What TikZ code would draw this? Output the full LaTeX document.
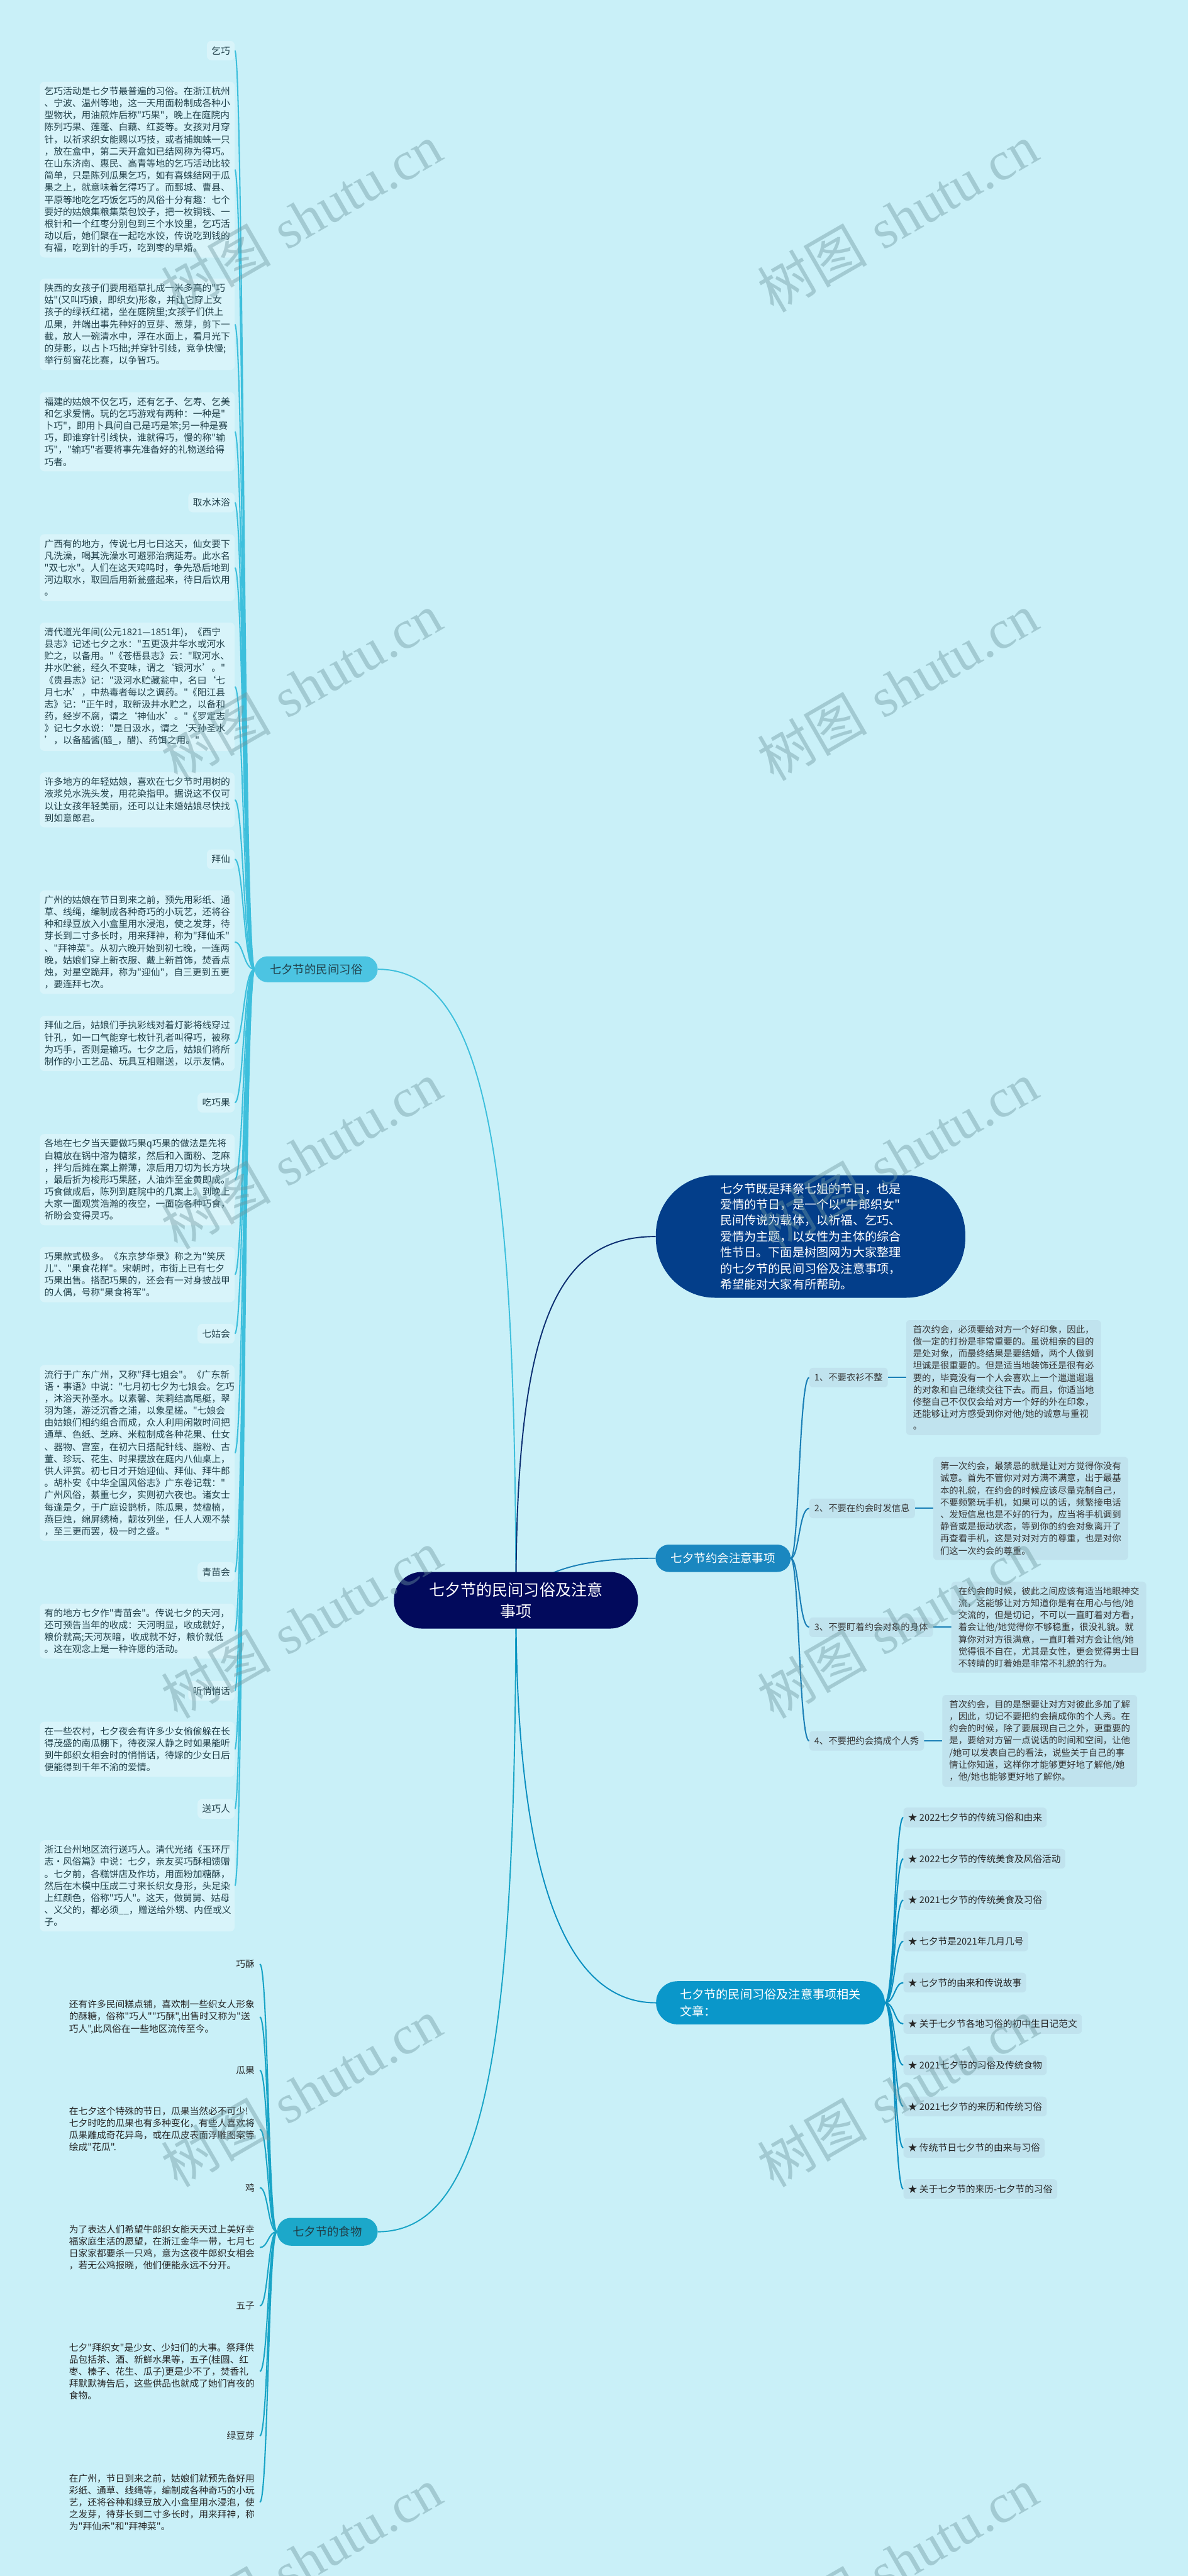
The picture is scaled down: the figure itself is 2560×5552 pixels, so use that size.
\documentclass[tikz,border=0pt]{standalone}
\usepackage{fontspec}
\newfontfamily\cjk{Noto Sans CJK SC}
\newfontfamily\wmserif{Liberation Serif}
\usetikzlibrary{positioning,backgrounds}
\definecolor{bgc}{HTML}{C9F0F8}
\definecolor{notefill}{HTML}{D8F4FA}
\definecolor{rfill}{HTML}{C0E3EE}
\definecolor{centerc}{HTML}{020A5C}
\definecolor{sumc}{HTML}{033E8A}
\definecolor{custc}{HTML}{4CC4E2}
\definecolor{foodc}{HTML}{1CA8CA}
\definecolor{datec}{HTML}{1A87C0}
\definecolor{artc}{HTML}{0A97CA}
\definecolor{custl}{HTML}{3DBFDC}
\definecolor{foodl}{HTML}{18A4C6}
\definecolor{datel}{HTML}{1A7FB6}
\definecolor{artl}{HTML}{0A8FC0}
\definecolor{suml}{HTML}{0C2F72}
\definecolor{ltext}{HTML}{21404A}
\definecolor{rtext}{HTML}{363636}
\definecolor{wm}{HTML}{6E979F}
\tikzset{
  x=1pt,y=-1pt,
  ctrnode/.style={fill=centerc,text=white,rounded corners=60pt,minimum width=526pt,minimum height=122pt,inner sep=0pt,align=center,font=\cjk\fontsize{34}{46}\selectfont},
  sumnode/.style={fill=sumc,text=white,rounded corners=128pt,minimum width=667pt,minimum height=264pt,inner sep=0pt,align=left,font=\cjk\fontsize{26}{34.5}\selectfont},
  custnode/.style={fill=custc,text=ltext,rounded corners=28pt,minimum width=265pt,minimum height=56pt,inner sep=0pt,font=\cjk\fontsize{25}{30}\selectfont},
  foodnode/.style={fill=foodc,text=ltext,rounded corners=30pt,minimum width=217pt,minimum height=60pt,inner sep=0pt,font=\cjk\fontsize{25}{30}\selectfont},
  datenode/.style={fill=datec,text=white,rounded corners=29pt,minimum width=291pt,minimum height=59pt,inner sep=0pt,font=\cjk\fontsize{25}{30}\selectfont},
  artnode/.style={fill=artc,text=white,rounded corners=46pt,minimum width=493pt,minimum height=93pt,inner sep=0pt,align=left,font=\cjk\fontsize{26}{36}\selectfont},
  lnote/.style={fill=notefill,rounded corners=10pt,text width=400pt,align=left,inner xsep=10pt,inner ysep=11pt,anchor=east,text=ltext,font=\cjk\fontsize{20}{26}\selectfont},
  llabel/.style={fill=notefill,rounded corners=10pt,inner xsep=10pt,inner ysep=12pt,anchor=east,text=ltext,font=\cjk\fontsize{20}{26}\selectfont},
  fnote/.style={text width=400pt,align=left,inner xsep=11pt,inner ysep=6pt,anchor=east,text=black!85,font=\cjk\fontsize{20}{26}\selectfont},
  flabel/.style={inner xsep=11pt,inner ysep=6pt,anchor=east,text=black!85,font=\cjk\fontsize{20}{26}\selectfont},
  ritem/.style={fill=rfill,rounded corners=8pt,inner xsep=11pt,inner ysep=12pt,anchor=west,text=rtext,font=\cjk\fontsize{19.5}{26}\selectfont},
  rnote/.style={fill=rfill,rounded corners=8pt,text width=390pt,align=left,inner xsep=15pt,inner ysep=11pt,text=rtext,font=\cjk\fontsize{19.5}{26}\selectfont},
  aitem/.style={fill=rfill,rounded corners=8pt,inner xsep=10pt,inner ysep=12pt,anchor=west,text=black!85,font=\cjk\fontsize{20}{26}\selectfont},
  mainline/.style={line width=2.6pt},
  subline/.style={line width=2.8pt},
  wmk/.style={text=wm,text opacity=0.42,rotate=30,inner sep=0pt,font=\fontsize{118}{120}\selectfont}
}
\begin{document}
\begin{tikzpicture}
\useasboundingbox (0,0) rectangle (2560,5552);

% ---------- main nodes ----------
\node[ctrnode] (ctr) at (1112,3449) {七夕节的民间习俗及注意\\事项};
\node[custnode] (cust) at (681.5,2089) {七夕节的民间习俗};
\node[foodnode] (food) at (705.5,4810) {七夕节的食物};
\node[sumnode] (sum) at (1747,2665) {七夕节既是拜祭七姐的节日，也是\\爱情的节日，是一个以"牛郎织女"\\民间传说为载体，以祈福、乞巧、\\爱情为主题，以女性为主体的综合\\性节日。下面是树图网为大家整理\\的七夕节的民间习俗及注意事项，\\希望能对大家有所帮助。};
\node[datenode] (date) at (1558.5,3358.5) {七夕节约会注意事项};
\node[artnode] (art) at (1660.5,4316.5) {七夕节的民间习俗及注意事项相关\\文章：};

% ---------- customs (left) ----------
\node[llabel] (q1) at (506,109) {乞巧};
\node[lnote] (q2) at (506,365.5) {乞巧活动是七夕节最普遍的习俗。在浙江杭州\\、宁波、温州等地，这一天用面粉制成各种小\\型物状，用油煎炸后称"巧果"，晚上在庭院内\\陈列巧果、莲蓬、白藕、红菱等。女孩对月穿\\针，以祈求织女能赐以巧技，或者捕蜘蛛一只\\，放在盒中，第二天开盒如已结网称为得巧。\\在山东济南、惠民、高青等地的乞巧活动比较\\简单，只是陈列瓜果乞巧，如有喜蛛结网于瓜\\果之上，就意味着乞得巧了。而鄄城、曹县、\\平原等地吃乞巧饭乞巧的风俗十分有趣：七个\\要好的姑娘集粮集菜包饺子，把一枚铜钱、一\\根针和一个红枣分别包到三个水饺里，乞巧活\\动以后，她们聚在一起吃水饺，传说吃到钱的\\有福，吃到针的手巧，吃到枣的早婚。};
\node[lnote] (q3) at (506,699) {陕西的女孩子们要用稻草扎成一米多高的"巧\\姑"(又叫巧娘，即织女)形象，并让它穿上女\\孩子的绿袄红裙，坐在庭院里;女孩子们供上\\瓜果，并端出事先种好的豆芽、葱芽，剪下一\\截，放人一碗清水中，浮在水面上，看月光下\\的芽影，以占卜巧拙;并穿针引线，竞争快慢;\\举行剪窗花比赛，以争智巧。};
\node[lnote] (q4) at (506,930.5) {福建的姑娘不仅乞巧，还有乞子、乞寿、乞美\\和乞求爱情。玩的乞巧游戏有两种：一种是"\\卜巧"，即用卜具问自己是巧是笨;另一种是赛\\巧，即谁穿针引线快，谁就得巧，慢的称"输\\巧"，"输巧"者要将事先准备好的礼物送给得\\巧者。};
\node[llabel] (q5) at (506,1083) {取水沐浴};
\node[lnote] (q6) at (506,1223.5) {广西有的地方，传说七月七日这天，仙女要下\\凡洗澡，喝其洗澡水可避邪治病延寿。此水名\\"双七水"。人们在这天鸡鸣时，争先恐后地到\\河边取水，取回后用新瓮盛起来，待日后饮用\\。};
\node[lnote] (q7) at (506,1480) {清代道光年间(公元1821—1851年)，《西宁\\县志》记述七夕之水："五更汲井华水或河水\\贮之，以备用。"《苍梧县志》云："取河水、\\井水贮瓮，经久不变味，谓之‘银河水’。"\\《贵县志》记："汲河水贮藏瓮中，名曰‘七\\月七水’，中热毒者每以之调药。"《阳江县\\志》记："正午时，取新汲井水贮之，以备和\\药，经岁不腐，谓之‘神仙水’。"《罗定志\\》记七夕水说："是日汲水，谓之‘天孙圣水\\’，以备醯酱(醯\_，醋)、药饵之用。"};
\node[lnote] (q8) at (506,1724) {许多地方的年轻姑娘，喜欢在七夕节时用树的\\液浆兑水洗头发，用花染指甲。据说这不仅可\\以让女孩年轻美丽，还可以让未婚姑娘尽快找\\到如意郎君。};
\node[llabel] (q9) at (506,1852) {拜仙};
\node[lnote] (q10) at (506,2030.5) {广州的姑娘在节日到来之前，预先用彩纸、通\\草、线绳，编制成各种奇巧的小玩艺，还将谷\\种和绿豆放入小盒里用水浸泡，使之发芽，待\\芽长到二寸多长时，用来拜神，称为"拜仙禾"\\、"拜神菜"。从初六晚开始到初七晚，一连两\\晚，姑娘们穿上新衣服、戴上新首饰，焚香点\\烛，对星空跪拜，称为"迎仙"，自三更到五更\\，要连拜七次。};
\node[lnote] (q11) at (506,2249) {拜仙之后，姑娘们手执彩线对着灯影将线穿过\\针孔，如一口气能穿七枚针孔者叫得巧，被称\\为巧手，否则是输巧。七夕之后，姑娘们将所\\制作的小工艺品、玩具互相赠送，以示友情。};
\node[llabel] (q12) at (506,2376.5) {吃巧果};
\node[lnote] (q13) at (506,2542.5) {各地在七夕当天要做巧果q巧果的做法是先将\\白糖放在锅中溶为糖浆，然后和入面粉、芝麻\\，拌匀后摊在案上擀薄，凉后用刀切为长方块\\，最后折为梭形巧果胚，人油炸至金黄即成。\\巧食做成后，陈列到庭院中的几案上。到晚上\\大家一面观赏浩瀚的夜空，一面吃各种巧食，\\祈盼会变得灵巧。};
\node[lnote] (q14) at (506,2747) {巧果款式极多。《东京梦华录》称之为"笑厌\\儿"、"果食花样"。宋朝时，市街上已有七夕\\巧果出售。搭配巧果的，还会有一对身披战甲\\的人偶，号称"果食将军"。};
\node[llabel] (q15) at (506,2874.5) {七姑会};
\node[lnote] (q16) at (506,3131.5) {流行于广东广州，又称"拜七姐会"。《广东新\\语·事语》中说："七月初七夕为七娘会。乞巧\\，沐浴天孙圣水。以素馨、茉莉结高尾艇，翠\\羽为篷，游泛沉香之浦，以象星槎。"七娘会\\由姑娘们相约组合而成，众人利用闲散时间把\\通草、色纸、芝麻、米粒制成各种花果、仕女\\、器物、宫室，在初六日搭配针线、脂粉、古\\董、珍玩、花生、时果摆放在庭内八仙桌上，\\供人评赏。初七日才开始迎仙、拜仙、拜牛郎\\。胡朴安《中华全国风俗志》广东卷记载："\\广州风俗，綦重七夕，实则初六夜也。诸女士\\每逢是夕，于广庭设鹊桥，陈瓜果，焚檀楠，\\燕巨烛，绵屏绣椅，靓妆列坐，任人人观不禁\\，至三更而罢，极一时之盛。"};
\node[llabel] (q17) at (506,3388) {青苗会};
\node[lnote] (q18) at (506,3515.5) {有的地方七夕作"青苗会"。传说七夕的天河，\\还可预告当年的收成：天河明显，收成就好，\\粮价就高;天河灰暗，收成就不好，粮价就低\\。这在观念上是一种许愿的活动。};
\node[llabel] (q19) at (506,3644) {听悄悄话};
\node[lnote] (q20) at (506,3770) {在一些农村，七夕夜会有许多少女偷偷躲在长\\得茂盛的南瓜棚下，待夜深人静之时如果能听\\到牛郎织女相会时的悄悄话，待嫁的少女日后\\便能得到千年不渝的爱情。};
\node[llabel] (q21) at (506,3898.5) {送巧人};
\node[lnote] (q22) at (506,4064.5) {浙江台州地区流行送巧人。清代光绪《玉环厅\\志·风俗篇》中说：七夕，亲友买巧酥相馈赠\\。七夕前，各糕饼店及作坊，用面粉加糖酥，\\然后在木模中压成二寸来长织女身形，头足染\\上红颜色，俗称"巧人"。这天，做舅舅、姑母\\、义父的，都必须\_\_，赠送给外甥、内侄或义\\子。};

% ---------- food (left bottom) ----------
\node[flabel] (f1) at (560,4233) {巧酥};
\node[fnote] (f2) at (560,4347) {还有许多民间糕点铺，喜欢制一些织女人形象\\的酥糖，俗称"巧人""巧酥",出售时又称为"送\\巧人",此风俗在一些地区流传至今。};
\node[flabel] (f3) at (560,4462) {瓜果};
\node[fnote] (f4) at (560,4589) {在七夕这个特殊的节日，瓜果当然必不可少!\\七夕时吃的瓜果也有多种变化，有些人喜欢将\\瓜果雕成奇花异鸟，或在瓜皮表面浮雕图案等\\绘成"花瓜".};
\node[flabel] (f5) at (560,4715) {鸡};
\node[fnote] (f6) at (560,4844) {为了表达人们希望牛郎织女能天天过上美好幸\\福家庭生活的愿望，在浙江金华一带，七月七\\日家家都要杀一只鸡，意为这夜牛郎织女相会\\，若无公鸡报晓，他们便能永远不分开。};
\node[flabel] (f7) at (560,4970) {五子};
\node[fnote] (f8) at (560,5111) {七夕"拜织女"是少女、少妇们的大事。祭拜供\\品包括茶、酒、新鲜水果等，五子(桂圆、红\\枣、榛子、花生、瓜子)更是少不了，焚香礼\\拜默默祷告后，这些供品也就成了她们宵夜的\\食物。};
\node[flabel] (f9) at (560,5250) {绿豆芽};
\node[fnote] (f10) at (560,5393) {在广州，节日到来之前，姑娘们就预先备好用\\彩纸、通草、线绳等，编制成各种奇巧的小玩\\艺，还将谷种和绿豆放入小盒里用水浸泡，使\\之发芽，待芽长到二寸多长时，用来拜神，称\\为"拜仙禾"和"拜神菜"。};

% ---------- dating (right) ----------
\node[ritem] (d1) at (1744,2969) {1、不要衣衫不整};
\node[ritem] (d2) at (1744,3251) {2、不要在约会时发信息};
\node[ritem] (d3) at (1744,3507) {3、不要盯着约会对象的身体};
\node[ritem] (d4) at (1744,3752) {4、不要把约会搞成个人秀};
\node[rnote,right=39pt of d1] (dn1) {首次约会，必须要给对方一个好印象，因此，\\做一定的打扮是非常重要的。虽说相亲的目的\\是处对象，而最终结果是要结婚，两个人做到\\坦诚是很重要的。但是适当地装饰还是很有必\\要的，毕竟没有一个人会喜欢上一个邋邋遢遢\\的对象和自己继续交往下去。而且，你适当地\\修整自己不仅仅会给对方一个好的外在印象，\\还能够让对方感受到你对他/她的诚意与重视\\。};
\node[rnote,right=39pt of d2] (dn2) {第一次约会，最禁忌的就是让对方觉得你没有\\诚意。首先不管你对对方满不满意，出于最基\\本的礼貌，在约会的时候应该尽量克制自己，\\不要频繁玩手机，如果可以的话，频繁接电话\\、发短信息也是不好的行为，应当将手机调到\\静音或是振动状态，等到你的约会对象离开了\\再查看手机，这是对对对方的尊重，也是对你\\们这一次约会的尊重。};
\node[rnote,right=39pt of d3] (dn3) {在约会的时候，彼此之间应该有适当地眼神交\\流，这能够让对方知道你是有在用心与他/她\\交流的，但是切记，不可以一直盯着对方看，\\着会让他/她觉得你不够稳重，很没礼貌。就\\算你对对方很满意，一直盯着对方会让他/她\\觉得很不自在，尤其是女性，更会觉得男士目\\不转睛的盯着她是非常不礼貌的行为。};
\node[rnote,right=39pt of d4] (dn4) {首次约会，目的是想要让对方对彼此多加了解\\，因此，切记不要把约会搞成你的个人秀。在\\约会的时候，除了要展现自己之外，更重要的\\是，要给对方留一点说话的时间和空间，让他\\/她可以发表自己的看法，说些关于自己的事\\情让你知道，这样你才能够更好地了解他/她\\，他/她也能够更好地了解你。};

% ---------- articles (right bottom) ----------
\node[aitem] (a1) at (1947,3917) {★ 2022七夕节的传统习俗和由来};
\node[aitem] (a2) at (1947,4006) {★ 2022七夕节的传统美食及风俗活动};
\node[aitem] (a3) at (1947,4095) {★ 2021七夕节的传统美食及习俗};
\node[aitem] (a4) at (1947,4184) {★ 七夕节是2021年几月几号};
\node[aitem] (a5) at (1947,4273) {★ 七夕节的由来和传说故事};
\node[aitem] (a6) at (1947,4362) {★ 关于七夕节各地习俗的初中生日记范文};
\node[aitem] (a7) at (1947,4451) {★ 2021七夕节的习俗及传统食物};
\node[aitem] (a8) at (1947,4540) {★ 2021七夕节的来历和传统习俗};
\node[aitem] (a9) at (1947,4629) {★ 传统节日七夕节的由来与习俗};
\node[aitem] (a10) at (1947,4718) {★ 关于七夕节的来历-七夕节的习俗};

% ---------- connectors ----------
\begin{scope}[on background layer]
\fill[bgc] (0,0) rectangle (2560,5552);
\draw[mainline,custl] (ctr.center) .. controls (1111,2500) and (1050,2089) .. (cust.east);
\draw[mainline,foodl] (ctr.center) .. controls (1111,4400) and (1050,4810) .. (food.east);
\draw[mainline,suml] (ctr.center) .. controls (1111,2850) and (1200,2665) .. (sum.west);
\draw[mainline,datel] (ctr.center) .. controls (1170,3370) and (1300,3358) .. (date.west);
\draw[mainline,artl] (ctr.center) .. controls (1111,4050) and (1220,4317) .. (art.west);
\foreach \n in {q1,q2,q3,q4,q5,q6,q7,q8,q9,q10,q11,q12,q13,q14,q15,q16,q17,q18,q19,q20,q21,q22}
  \draw[subline,custl] (cust.west) .. controls +(-24,0) and +(19,0) .. (\n.east);
\foreach \n in {f1,f2,f3,f4,f5,f6,f7,f8,f9,f10}
  \draw[subline,foodl] (food.west) .. controls +(-19,0) and +(18,0) .. (\n.east);
\foreach \n in {d1,d2,d3,d4}
  \draw[subline,datel] (date.east) .. controls +(18,0) and +(-22,0) .. (\n.west);
\foreach \n in {1,2,3,4}
  \draw[subline,datel] (d\n.east) -- (dn\n.west);
\foreach \n in {a1,a2,a3,a4,a5,a6,a7,a8,a9,a10}
  \draw[subline,artl] (art.east) .. controls +(21,0) and +(-19,0) .. (\n.west);
\end{scope}

% ---------- watermarks ----------
\foreach \yy [count=\i] in {470,1480,2490,3500,4510,5520}{
  \node[wmk] (wl\i) at (650,\yy) {{\cjk 树图} {\wmserif shutu.cn}};
  \node[wmk] (wr\i) at (1935,\yy) {{\cjk 树图} {\wmserif shutu.cn}};
}
\end{tikzpicture}
\end{document}
